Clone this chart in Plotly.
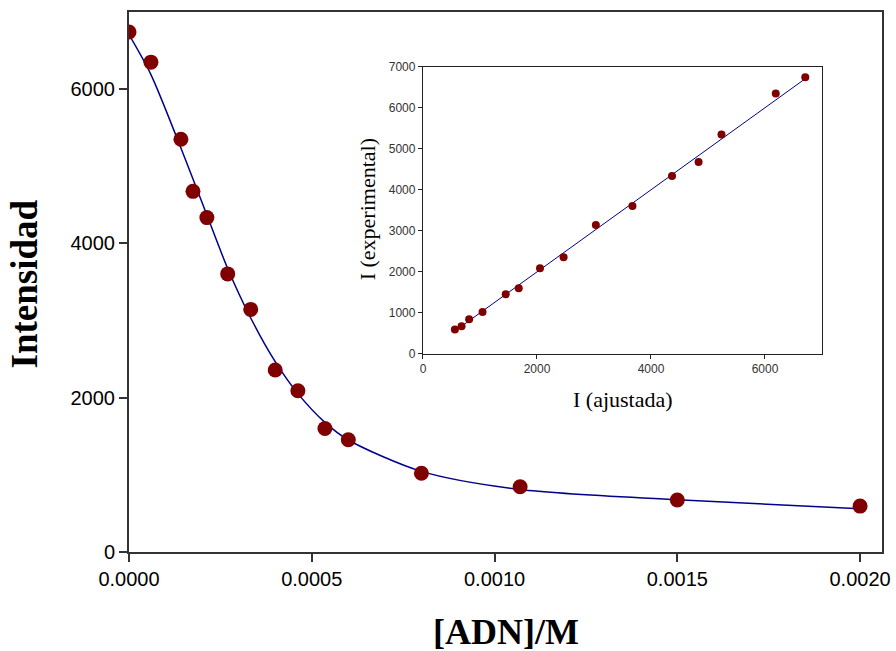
import plotly.graph_objects as go

# Main data: concentration of ADN (M) vs measured intensity
conc = [0.0, 0.00006, 0.000142, 0.000175, 0.000213, 0.00027, 0.000333, 0.0004,
        0.000462, 0.000536, 0.0006, 0.0008, 0.00107, 0.0015, 0.002]
i_exp = [6740, 6350, 5350, 4675, 4335, 3605, 3145, 2360, 2090, 1600, 1455,
         1020, 845, 675, 595]
i_fit = [6707, 6189, 5237, 4835, 4369, 3675, 3033, 2467, 2053, 1680, 1452,
         1045, 810, 677, 560]

main_xticks = [0.0, 0.0005, 0.0010, 0.0015, 0.0020]
main_yticks = [0, 2000, 4000, 6000]
inset_xticks = [0, 2000, 4000, 6000]
inset_yticks = [0, 1000, 2000, 3000, 4000, 5000, 6000, 7000]

DOT = "#800000"
LINE = "#00008B"

fig = go.Figure()

# Main fitted curve
fig.add_trace(go.Scatter(x=conc, y=i_fit, mode="lines",
                         line=dict(color=LINE, width=1.5, shape="spline", smoothing=0.8),
                         xaxis="x", yaxis="y", hoverinfo="skip"))
# Main points
fig.add_trace(go.Scatter(x=conc, y=i_exp, mode="markers",
                         marker=dict(color=DOT, size=15, line=dict(width=0)),
                         xaxis="x", yaxis="y"))

# Inset line y = x across fitted range
fit_span = [min(i_fit), max(i_fit)]
fig.add_trace(go.Scatter(x=fit_span, y=fit_span, mode="lines",
                         line=dict(color=LINE, width=1),
                         xaxis="x2", yaxis="y2", hoverinfo="skip"))
fig.add_trace(go.Scatter(x=i_fit, y=i_exp, mode="markers",
                         marker=dict(color=DOT, size=8, line=dict(width=0)),
                         xaxis="x2", yaxis="y2"))

fig.update_layout(
    width=896, height=651,
    margin=dict(l=129, r=14, t=12, b=99, autoexpand=False),
    paper_bgcolor="white", plot_bgcolor="white",
    showlegend=False,
    font=dict(family="Liberation Sans, Arial, sans-serif", color="black"),
    xaxis=dict(domain=[0, 1], range=[0, 0.00206], tickvals=main_xticks,
               tickformat=".4f", showgrid=False, zeroline=False, automargin=False,
               showline=True, mirror=True, linecolor="#333", linewidth=2,
               ticks="outside", ticklen=8, tickwidth=1.5, tickcolor="#333",
               tickfont=dict(size=20, family="Liberation Sans, Arial")),
    yaxis=dict(domain=[0, 1], range=[0, 7000], tickvals=main_yticks,
               showgrid=False, zeroline=False, automargin=False,
               showline=True, mirror=True, linecolor="#333", linewidth=2,
               ticks="outside", ticklen=8, tickwidth=1.5, tickcolor="#333",
               tickfont=dict(size=20, family="Liberation Sans, Arial")),
    xaxis2=dict(domain=[0.3904, 0.9203], anchor="y2", range=[0, 7000],
                tickvals=inset_xticks, showgrid=False, zeroline=False,
                showline=True, mirror=True, linecolor="#222", linewidth=1.2,
                ticks="outside", ticklen=4, tickwidth=1, tickcolor="#222",
                tickfont=dict(size=12, color="#333", family="Liberation Sans, Arial")),
    yaxis2=dict(domain=[0.3667, 0.8987], anchor="x2", range=[0, 7000],
                tickvals=inset_yticks, showgrid=False, zeroline=False,
                showline=True, mirror=True, linecolor="#222", linewidth=1.2,
                ticks="outside", ticklen=4, tickwidth=1, tickcolor="#222",
                tickfont=dict(size=12, color="#333", family="Liberation Sans, Arial")),
    annotations=[
        dict(text="<b>[ADN]/M</b>", xref="paper", yref="paper", x=0.5, y=-0.148,
             xanchor="center", yanchor="middle", showarrow=False,
             font=dict(family="Liberation Serif, Times New Roman, serif", size=36, color="black")),
        dict(text="<b>Intensidad</b>", xref="paper", yref="paper", x=-0.139, y=0.496,
             xanchor="center", yanchor="middle", showarrow=False, textangle=-90,
             font=dict(family="Liberation Serif, Times New Roman, serif", size=37, color="black")),
        dict(text="I (ajustada)", xref="paper", yref="paper", x=0.656, y=0.283,
             xanchor="center", yanchor="middle", showarrow=False,
             font=dict(family="Liberation Serif, Times New Roman, serif", size=22, color="black")),
        dict(text="I (experimental)", xref="paper", yref="paper", x=0.317, y=0.634,
             xanchor="center", yanchor="middle", showarrow=False, textangle=-90,
             font=dict(family="Liberation Serif, Times New Roman, serif", size=22, color="black")),
    ],
)

fig.write_html("out.html")
